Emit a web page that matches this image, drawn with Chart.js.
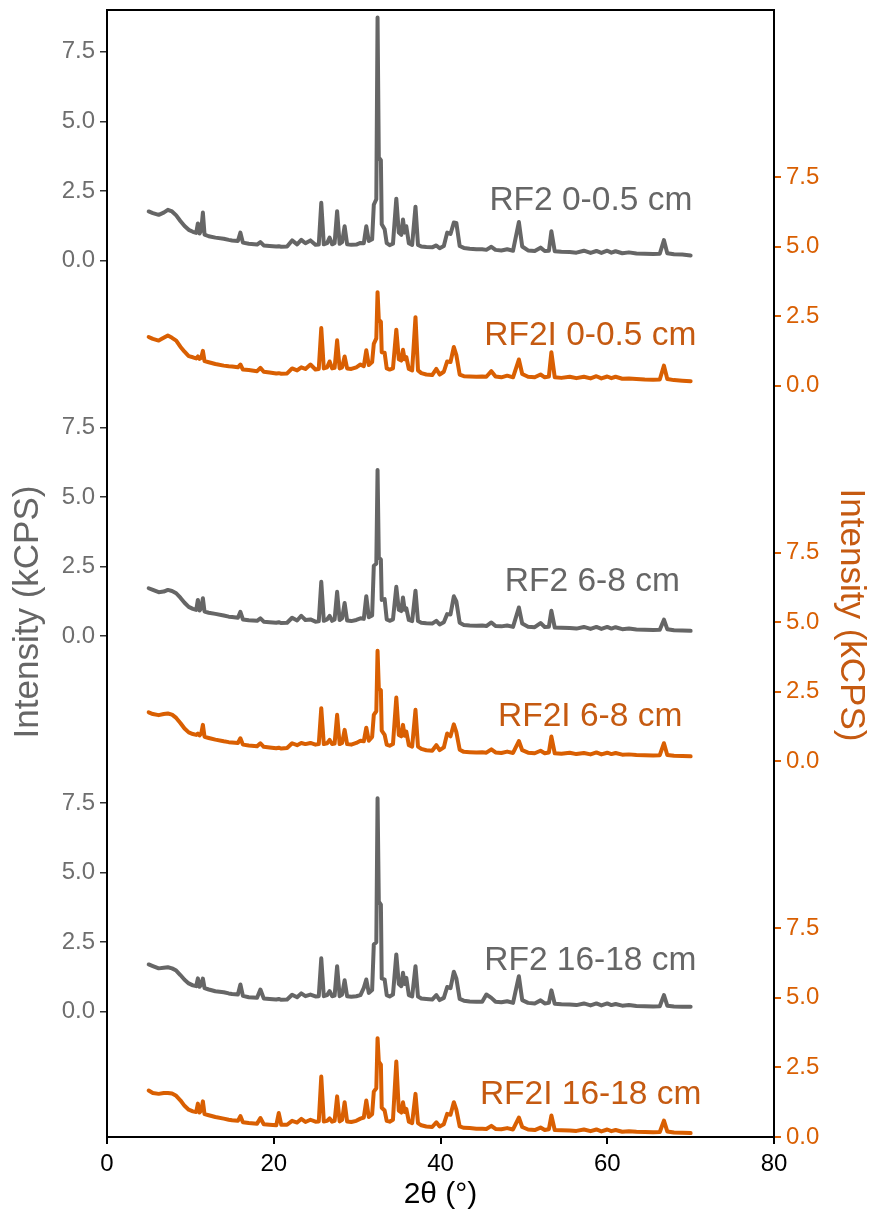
<!DOCTYPE html>
<html>
<head>
<meta charset="utf-8">
<script src="https://cdn.jsdelivr.net/npm/chart.js@4.4.1/dist/chart.umd.min.js"></script>
<style>
  html, body { margin: 0; padding: 0; background: #fff; }
  canvas { display: block; }
</style>
</head>
<body>
<canvas id="xrdChart" width="872" height="1218"></canvas>
<script>
// 2-theta grid (degrees), shared by all six patterns
const twoTheta = [
  5.0, 5.5, 6.2, 6.8, 7.3, 7.8, 8.3, 8.8, 9.3, 9.8,
  10.3, 10.7, 10.9, 11.1, 11.3, 11.5, 11.7, 12.2, 13.0, 14.0,
  14.6, 15.0, 15.7, 16.0, 16.3, 17.0, 18.0, 18.4, 18.8, 19.5,
  20.3, 20.6, 20.9, 21.6, 22.2, 22.8, 23.3, 23.8, 24.4, 25.0,
  25.4, 25.7, 26.0, 26.4, 26.7, 27.0, 27.3, 27.6, 27.9, 28.2,
  28.5, 28.8, 29.3, 29.9, 30.4, 30.8, 31.1, 31.4, 31.8, 32.0,
  32.3, 32.45, 32.6, 32.85, 32.95, 33.3, 33.55, 33.9, 34.3, 34.7,
  35.0, 35.3, 35.5, 35.7, 35.9, 36.2, 36.6, 37.0, 37.3, 37.7,
  38.3, 39.0, 39.5, 39.9, 40.4, 40.8, 41.2, 41.6, 41.9, 42.3,
  42.8, 43.5, 44.3, 45.0, 45.5, 46.1, 46.6, 47.3, 48.0, 48.7,
  49.4, 49.8, 50.5, 51.3, 52.0, 52.5, 53.0, 53.3, 53.7, 54.5,
  55.5, 56.3, 57.2, 58.0, 58.7, 59.3, 60.0, 60.5, 61.0, 61.8,
  62.6, 63.5, 64.5, 65.5, 66.3, 66.8, 67.2, 68.0, 69.0, 70.0
];

// intensities (kCPS)
const rf2_0_05 = [
  1.76, 1.70, 1.64, 1.72, 1.82, 1.76, 1.62, 1.42, 1.24, 1.10,
  1.03, 0.99, 1.33, 0.97, 1.08, 1.72, 0.93, 0.87, 0.82, 0.78,
  0.74, 0.72, 0.70, 1.00, 0.64, 0.60, 0.57, 0.66, 0.54, 0.52,
  0.50, 0.51, 0.49, 0.50, 0.72, 0.58, 0.74, 0.62, 0.72, 0.56,
  0.57, 2.07, 0.58, 0.62, 0.82, 0.58, 0.62, 1.77, 0.60, 0.66,
  1.23, 0.58, 0.56, 0.57, 0.63, 0.62, 1.23, 0.70, 0.76, 2.00,
  2.20, 8.73, 3.70, 3.60, 1.30, 1.12, 0.62, 0.55, 0.60, 2.22,
  1.00, 0.92, 1.47, 1.00, 1.23, 0.62, 0.56, 1.93, 0.56, 0.50,
  0.48, 0.47, 0.54, 0.44, 0.52, 1.00, 0.95, 1.36, 1.35, 0.52,
  0.45, 0.42, 0.40, 0.40, 0.38, 0.49, 0.38, 0.36, 0.40, 0.35,
  1.38, 0.50, 0.36, 0.34, 0.46, 0.34, 0.35, 1.05, 0.33, 0.31,
  0.30, 0.28, 0.35, 0.27, 0.34, 0.27, 0.35, 0.28, 0.33, 0.26,
  0.29, 0.25, 0.24, 0.23, 0.24, 0.73, 0.26, 0.22, 0.21, 0.18
];
const rf2i_0_05 = [
  1.75, 1.68, 1.62, 1.72, 1.80, 1.72, 1.62, 1.40, 1.22, 1.06,
  1.02, 0.98, 1.05, 0.96, 1.00, 1.25, 0.88, 0.84, 0.78, 0.72,
  0.70, 0.69, 0.66, 0.76, 0.58, 0.56, 0.52, 0.64, 0.50, 0.47,
  0.44, 0.45, 0.43, 0.44, 0.62, 0.55, 0.66, 0.60, 0.76, 0.58,
  0.60, 2.07, 0.62, 0.66, 0.87, 0.62, 0.64, 1.63, 0.62, 0.66,
  1.05, 0.62, 0.60, 0.66, 0.76, 0.70, 1.27, 0.74, 0.85, 1.50,
  1.70, 3.36, 2.37, 2.30, 1.20, 1.18, 0.62, 0.58, 0.62, 2.01,
  0.95, 0.90, 1.29, 0.95, 1.03, 0.60, 0.55, 2.46, 0.55, 0.45,
  0.40, 0.38, 0.60, 0.40, 0.50, 0.87, 0.85, 1.39, 1.10, 0.40,
  0.34, 0.33, 0.32, 0.33, 0.32, 0.52, 0.33, 0.30, 0.36, 0.30,
  0.94, 0.42, 0.32, 0.30, 0.40, 0.30, 0.33, 1.20, 0.30, 0.28,
  0.32, 0.27, 0.32, 0.26, 0.34, 0.26, 0.33, 0.27, 0.32, 0.25,
  0.26, 0.24, 0.22, 0.21, 0.22, 0.72, 0.24, 0.20, 0.18, 0.16
];
const rf2_6_8 = [
  1.72, 1.66, 1.58, 1.60, 1.66, 1.62, 1.54, 1.38, 1.20, 1.05,
  0.98, 0.94, 1.30, 0.92, 1.00, 1.36, 0.88, 0.84, 0.80, 0.74,
  0.70, 0.69, 0.66, 0.87, 0.60, 0.57, 0.55, 0.64, 0.52, 0.50,
  0.48, 0.50, 0.47, 0.48, 0.66, 0.56, 0.73, 0.58, 0.60, 0.52,
  0.53, 1.95, 0.55, 0.60, 0.73, 0.55, 0.60, 1.59, 0.58, 0.64,
  1.19, 0.56, 0.54, 0.58, 0.64, 0.62, 1.43, 0.68, 0.74, 2.53,
  2.60, 5.97, 2.83, 2.75, 1.30, 1.33, 0.60, 0.55, 0.60, 1.77,
  0.95, 0.90, 1.39, 0.95, 1.00, 0.58, 0.54, 1.63, 0.54, 0.48,
  0.46, 0.45, 0.55, 0.42, 0.50, 0.79, 0.78, 1.43, 1.25, 0.48,
  0.40, 0.38, 0.37, 0.38, 0.36, 0.49, 0.36, 0.35, 0.38, 0.33,
  1.03, 0.45, 0.34, 0.32, 0.47, 0.33, 0.34, 0.91, 0.31, 0.30,
  0.29, 0.27, 0.33, 0.26, 0.33, 0.26, 0.33, 0.27, 0.32, 0.25,
  0.27, 0.24, 0.23, 0.22, 0.23, 0.59, 0.25, 0.21, 0.20, 0.19
];
const rf2i_6_8 = [
  1.76, 1.70, 1.66, 1.70, 1.72, 1.68, 1.56, 1.38, 1.18, 1.04,
  0.98, 0.95, 1.00, 0.93, 1.00, 1.31, 0.88, 0.84, 0.78, 0.72,
  0.69, 0.68, 0.66, 0.83, 0.60, 0.57, 0.54, 0.65, 0.52, 0.50,
  0.47, 0.49, 0.46, 0.48, 0.65, 0.58, 0.66, 0.62, 0.66, 0.60,
  0.62, 1.91, 0.62, 0.65, 0.77, 0.62, 0.64, 1.67, 0.62, 0.66,
  1.13, 0.62, 0.60, 0.66, 0.74, 0.72, 1.21, 0.74, 0.88, 1.67,
  1.80, 3.97, 2.63, 2.55, 1.10, 0.95, 0.60, 0.56, 0.62, 2.29,
  0.95, 0.90, 1.31, 0.92, 1.07, 0.58, 0.53, 1.85, 0.53, 0.45,
  0.40, 0.38, 0.58, 0.40, 0.50, 1.00, 0.90, 1.33, 1.05, 0.42,
  0.34, 0.33, 0.32, 0.33, 0.31, 0.43, 0.32, 0.30, 0.35, 0.30,
  0.73, 0.40, 0.31, 0.29, 0.38, 0.29, 0.32, 0.89, 0.29, 0.27,
  0.31, 0.26, 0.30, 0.25, 0.32, 0.25, 0.31, 0.26, 0.30, 0.24,
  0.25, 0.23, 0.22, 0.21, 0.22, 0.65, 0.23, 0.20, 0.19, 0.18
];
const rf2_16_18 = [
  1.70, 1.64, 1.56, 1.58, 1.60, 1.56, 1.48, 1.32, 1.15, 1.02,
  0.95, 0.92, 1.20, 0.90, 0.98, 1.19, 0.85, 0.80, 0.74, 0.70,
  0.66, 0.64, 0.62, 0.98, 0.57, 0.52, 0.50, 0.80, 0.48, 0.46,
  0.44, 0.46, 0.43, 0.44, 0.61, 0.52, 0.66, 0.56, 0.62, 0.55,
  0.56, 1.92, 0.56, 0.60, 0.74, 0.56, 0.58, 1.64, 0.56, 0.62,
  1.13, 0.56, 0.54, 0.56, 0.60, 0.86, 1.16, 0.68, 0.78, 2.42,
  2.50, 7.67, 3.96, 3.85, 1.20, 1.16, 0.60, 0.55, 0.62, 2.06,
  1.00, 0.92, 1.40, 1.00, 1.22, 0.60, 0.55, 1.64, 0.55, 0.48,
  0.46, 0.44, 0.60, 0.42, 0.50, 0.89, 0.85, 1.44, 1.20, 0.46,
  0.40, 0.37, 0.36, 0.36, 0.62, 0.50, 0.36, 0.34, 0.38, 0.32,
  1.28, 0.42, 0.32, 0.30, 0.41, 0.30, 0.32, 0.77, 0.29, 0.27,
  0.26, 0.24, 0.30, 0.23, 0.30, 0.23, 0.30, 0.24, 0.28, 0.22,
  0.24, 0.21, 0.20, 0.19, 0.20, 0.60, 0.22, 0.19, 0.18, 0.18
];
const rf2i_16_18 = [
  1.67, 1.58, 1.55, 1.58, 1.58, 1.56, 1.48, 1.32, 1.12, 0.98,
  0.92, 0.90, 1.20, 0.88, 0.95, 1.28, 0.82, 0.78, 0.72, 0.66,
  0.62, 0.60, 0.58, 0.75, 0.53, 0.50, 0.48, 0.68, 0.46, 0.44,
  0.42, 0.86, 0.44, 0.44, 0.58, 0.52, 0.65, 0.54, 0.62, 0.55,
  0.56, 2.17, 0.56, 0.58, 0.67, 0.55, 0.58, 1.46, 0.56, 0.62,
  1.25, 0.56, 0.54, 0.58, 0.66, 0.70, 1.31, 0.72, 0.82, 1.63,
  1.75, 3.55, 2.71, 2.60, 1.05, 0.95, 0.58, 0.55, 0.62, 2.71,
  0.95, 0.88, 1.25, 0.90, 1.01, 0.55, 0.50, 1.55, 0.50, 0.42,
  0.38, 0.36, 0.53, 0.38, 0.46, 0.83, 0.80, 1.25, 0.98, 0.38,
  0.33, 0.32, 0.30, 0.30, 0.29, 0.40, 0.29, 0.28, 0.32, 0.27,
  0.70, 0.36, 0.27, 0.25, 0.34, 0.25, 0.28, 0.77, 0.25, 0.24,
  0.23, 0.22, 0.27, 0.21, 0.27, 0.20, 0.27, 0.21, 0.25, 0.19,
  0.21, 0.19, 0.18, 0.17, 0.18, 0.59, 0.20, 0.16, 0.15, 0.14
];

const sampleLabels = ['RF2 0-0.5 cm', 'RF2I 0-0.5 cm', 'RF2 6-8 cm', 'RF2I 6-8 cm', 'RF2 16-18 cm', 'RF2I 16-18 cm'];
const intensityTicks = [0, 2.5, 5, 7.5];
const xTicks = [0, 20, 40, 60, 80];
const yTitle = 'Intensity (kCPS)';
const xTitle = '2θ (°)';

// vertical stacking of the patterns (kCPS)
const grayOffsets = [31.5, 18, 4.5];
const orangeOffsets = [27, 13.5, 0];

const GRAY = '#666666';
const ORANGE = '#d95f02';
const ORANGE_TEXT = '#c55a11';
const FONT = '"Liberation Sans", Arial, sans-serif';

const patterns = [
  { values: rf2_0_05, offset: grayOffsets[0], color: GRAY, text: GRAY, labelAt: [70.2, 2.15] },
  { values: rf2i_0_05, offset: orangeOffsets[0], color: ORANGE, text: ORANGE_TEXT, labelAt: [70.7, 1.8] },
  { values: rf2_6_8, offset: grayOffsets[1], color: GRAY, text: GRAY, labelAt: [68.7, 1.95] },
  { values: rf2i_6_8, offset: orangeOffsets[1], color: ORANGE, text: ORANGE_TEXT, labelAt: [69.0, 1.6] },
  { values: rf2_16_18, offset: grayOffsets[2], color: GRAY, text: GRAY, labelAt: [70.7, 1.85] },
  { values: rf2i_16_18, offset: orangeOffsets[2], color: ORANGE, text: ORANGE_TEXT, labelAt: [71.3, 1.5] }
];

function stackedTicks(offsets) {
  return offsets.flatMap(o => intensityTicks.map(t => ({ value: o + t })));
}

function tickLabel(offsets) {
  return (value) => {
    const o = offsets.find(off => value >= off - 0.01 && value <= off + 7.51);
    return (value - o).toFixed(1);
  };
}

function drawRotated(ctx, text, x, y, angle) {
  ctx.save();
  ctx.translate(x, y);
  ctx.rotate(angle);
  ctx.fillText(text, 0, 0);
  ctx.restore();
}

// frame round the plot area, axis titles and the sample names
const framePlugin = {
  id: 'frame',
  afterDatasetsDraw(chart) {
    const { ctx, chartArea: a, scales } = chart;
    ctx.save();
    ctx.strokeStyle = '#000';
    ctx.lineWidth = 2;
    ctx.strokeRect(a.left, a.top, a.right - a.left, a.bottom - a.top);

    ctx.textAlign = 'center';
    ctx.textBaseline = 'middle';
    ctx.font = '35px ' + FONT;
    ctx.fillStyle = GRAY;
    drawRotated(ctx, yTitle, 28, 612, -Math.PI / 2);
    ctx.fillStyle = ORANGE_TEXT;
    drawRotated(ctx, yTitle, 851, 615, Math.PI / 2);
    ctx.font = '30px ' + FONT;
    ctx.fillStyle = '#000';
    ctx.fillText(xTitle, (a.left + a.right) / 2, 1195);

    ctx.font = '33.5px ' + FONT;
    ctx.textAlign = 'right';
    patterns.forEach((p, i) => {
      ctx.fillStyle = p.text;
      const x = scales.x.getPixelForValue(p.labelAt[0]);
      const y = scales.y.getPixelForValue(p.offset + p.labelAt[1]);
      ctx.fillText(sampleLabels[i], x, y);
    });
    ctx.restore();
  }
};

const datasets = patterns.map((p, i) => ({
  label: sampleLabels[i],
  data: twoTheta.map((t, k) => ({ x: t, y: p.values[k] + p.offset })),
  borderColor: p.color,
  borderWidth: 4,
  borderJoinStyle: 'round',
  borderCapStyle: 'round',
  pointRadius: 0,
  tension: 0,
  fill: false,
  yAxisID: 'y'
}));

const zeroPad = (scale) => {
  scale.paddingTop = 0;
  scale.paddingBottom = 0;
  scale.paddingLeft = 0;
  scale.paddingRight = 0;
};

new Chart(document.getElementById('xrdChart').getContext('2d'), {
  type: 'line',
  data: { datasets },
  plugins: [framePlugin],
  options: {
    responsive: false,
    devicePixelRatio: 1,
    animation: false,
    layout: { padding: { top: 10, left: 0, right: 0, bottom: 0 } },
    plugins: { legend: { display: false }, tooltip: { enabled: false } },
    scales: {
      x: {
        type: 'linear',
        min: 0,
        max: 80,
        afterBuildTicks: (scale) => { scale.ticks = xTicks.map(v => ({ value: v })); },
        afterFit: (scale) => { scale.height = 81; zeroPad(scale); },
        border: { display: false },
        grid: { drawOnChartArea: false, drawTicks: true, tickLength: 7, tickColor: '#000', lineWidth: 2 },
        ticks: { color: '#000', font: { family: FONT, size: 24 }, padding: 6, maxRotation: 0 }
      },
      y: {
        type: 'linear',
        position: 'left',
        min: 0,
        max: 40.5,
        afterBuildTicks: (scale) => { scale.ticks = stackedTicks(grayOffsets); },
        afterFit: (scale) => { scale.width = 107; zeroPad(scale); },
        border: { display: false },
        grid: { drawOnChartArea: false, drawTicks: true, tickLength: 7, tickColor: '#333', lineWidth: 1.5 },
        ticks: { color: '#6e6e6e', font: { family: FONT, size: 24 }, padding: 5, callback: tickLabel(grayOffsets) }
      },
      y2: {
        type: 'linear',
        position: 'right',
        min: 0,
        max: 40.5,
        afterBuildTicks: (scale) => { scale.ticks = stackedTicks(orangeOffsets); },
        afterFit: (scale) => { scale.width = 98; zeroPad(scale); },
        border: { display: false },
        grid: { drawOnChartArea: false, drawTicks: true, tickLength: 7, tickColor: ORANGE, lineWidth: 2 },
        ticks: { color: ORANGE, font: { family: FONT, size: 24 }, padding: 5, callback: tickLabel(orangeOffsets) }
      }
    }
  }
});
</script>
</body>
</html>
